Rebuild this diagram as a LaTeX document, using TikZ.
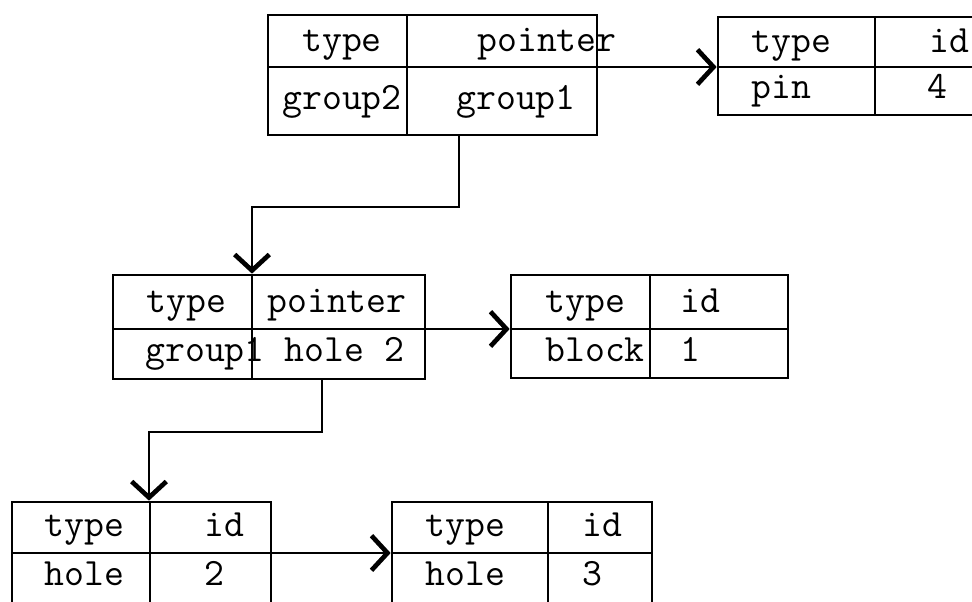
\documentclass[tikz,border=0pt]{standalone}
\usepackage{fontspec}
\usetikzlibrary{arrows.meta,fit}
\begin{document}
\begin{tikzpicture}[x=0.75pt,y=-0.75pt,
  frame/.style={draw,line width=2pt,inner sep=0pt,rectangle},
  rule/.style={line width=2pt},
  arr/.style={line width=2pt,-{Straight Barb[length=12pt,width=26pt,line width=3.5pt]}},
  txt/.style={inner sep=0pt,anchor=base west,font=\ttfamily\fontsize{29pt}{34pt}\selectfont},
  ctxt/.style={txt,anchor=base}]
\useasboundingbox (0,0) rectangle (972,602);
\clip (0,0) rectangle (972,602);
% ---- table A
\node[frame,fit={(268,15) (597,135)}] (A) {};
\draw[rule] (407,15) -- (407,135);
\draw[rule] (268,67) -- (597,67);
\node[ctxt] (a1) at (342,52) {type};
\node[ctxt] (a2) at (547,52) {pointer};
\node[ctxt] (a3) at (342,110) {group2};
\node[ctxt] (a4) at (516,110) {group1};
% ---- table B
\node[frame,fit={(718,17) (1000,115)}] (B) {};
\draw[rule] (875,17) -- (875,115);
\draw[rule] (718,67) -- (1000,67);
\node[txt] (b1) at (751,53) {type};
\node[txt] (b2) at (929,53) {id};
\node[txt] (b3) at (751,99) {pin};
\node[txt] (b4) at (927,99) {4};
% ---- table C
\node[frame,fit={(113,275) (425,379)}] (C) {};
\draw[rule] (252,275) -- (252,379);
\draw[rule] (113,329) -- (425,329);
\node[txt] (c1) at (146,313) {type};
\node[txt] (c2) at (267,313) {pointer};
\node[txt] (c3) at (145,362) {group1 hole 2};
% ---- table D
\node[frame,fit={(511,275) (788,378)}] (D) {};
\draw[rule] (650,275) -- (650,378);
\draw[rule] (511,329) -- (788,329);
\node[txt] (d1) at (545,313) {type};
\node[txt] (d2) at (680,313) {id};
\node[txt] (d3) at (545,362) {block};
\node[txt] (d4) at (680,362) {1};
% ---- table E
\node[frame,fit={(12,502) (271,640)}] (E) {};
\draw[rule] (150,502) -- (150,640);
\draw[rule] (12,553) -- (271,553);
\node[txt] (e1) at (44,537) {type};
\node[txt] (e2) at (204,537) {id};
\node[txt] (e3) at (44,585) {hole};
\node[txt] (e4) at (204,585) {2};
% ---- table F
\node[frame,fit={(392,502) (652,640)}] (F) {};
\draw[rule] (548,502) -- (548,640);
\draw[rule] (392,553) -- (652,553);
\node[txt] (f1) at (425,537) {type};
\node[txt] (f2) at (582,537) {id};
\node[txt] (f3) at (425,585) {hole};
\node[txt] (f4) at (582,585) {3};
% ---- connectors
\draw[arr] (A.east |- 0,67) -- (B.west |- 0,67);
\draw[arr] (C.east |- 0,329) -- (D.west |- 0,329);
\draw[arr] (E.east |- 0,553) -- (F.west |- 0,553);
\draw[arr] (A.south -| 459,0) -- (459,207) -- (252,207) -- (C.north -| 252,0);
\draw[arr] (C.south -| 322,0) -- (322,432) -- (149,432) -- (E.north -| 149,0);
\end{tikzpicture}
\end{document}
